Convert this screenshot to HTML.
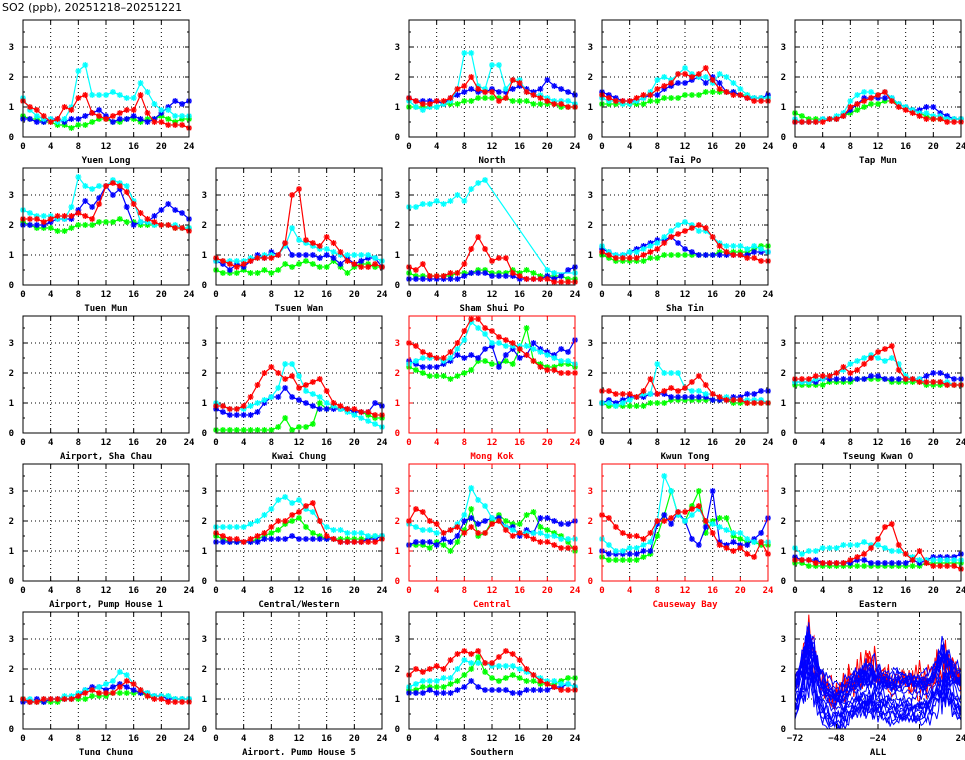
<!DOCTYPE html>
<html><head><meta charset="utf-8"><style>
body{margin:0;background:#fff;}
svg text{font-family:"DejaVu Sans Mono","Liberation Mono",monospace;font-weight:bold;}
</style></head><body>
<svg id="s" width="965" height="755" xmlns="http://www.w3.org/2000/svg">
<text x="2" y="11" font-size="11" style="font-family:'DejaVu Sans','Liberation Sans',sans-serif;font-weight:normal">SO2 (ppb), 20251218–20251221</text>
</svg>
<script>
const S=document.getElementById('s');
const C=['#00ffff','#ff0000','#0000ff','#00ff00'];
function el(t,a,txt){const e=document.createElementNS('http://www.w3.org/2000/svg',t);for(const k in a)e.setAttribute(k,a[k]);if(txt!=null)e.textContent=txt;S.appendChild(e);return e;}
const N=null;
const P=[
[0,0,"Yuen Long",0,[
[1.3,0.9,0.7,0.6,0.6,0.5,0.6,1.0,2.2,2.4,1.4,1.4,1.4,1.5,1.4,1.3,1.3,1.8,1.5,1.1,0.9,0.9,0.7,0.7,0.7],
[1.2,1.0,0.9,0.7,0.5,0.6,1.0,0.9,1.3,1.4,0.8,0.7,0.6,0.7,0.8,0.9,0.9,1.4,0.8,0.5,0.5,0.4,0.4,0.4,0.3],
[0.6,0.6,0.5,0.5,0.6,0.6,0.5,0.6,0.6,0.7,0.8,0.9,0.7,0.5,0.6,0.6,0.7,0.6,0.5,0.6,0.8,1.0,1.2,1.1,1.2],
[0.7,0.6,0.6,0.5,0.5,0.4,0.4,0.3,0.4,0.4,0.5,0.6,0.6,0.5,0.5,0.6,0.6,0.5,0.6,0.6,0.7,0.6,0.5,0.6,0.6]]],
[0,2,"North",0,[
[1.2,1.0,0.9,1.0,1.0,1.1,1.2,1.6,2.8,2.8,1.7,1.6,2.4,2.4,1.6,1.9,1.9,1.5,1.4,1.4,1.3,1.2,1.2,1.2,1.1],
[1.3,1.2,1.1,1.1,1.2,1.2,1.3,1.6,1.7,2.0,1.6,1.5,1.5,1.2,1.3,1.9,1.8,1.5,1.4,1.3,1.2,1.1,1.1,1.0,1.0],
[1.3,1.2,1.2,1.2,1.2,1.1,1.3,1.4,1.5,1.6,1.5,1.5,1.6,1.5,1.5,1.6,1.7,1.6,1.5,1.6,1.9,1.7,1.6,1.5,1.4],
[1.0,1.0,1.0,1.0,1.0,1.1,1.1,1.1,1.2,1.2,1.3,1.3,1.3,1.3,1.3,1.2,1.2,1.2,1.1,1.1,1.1,1.1,1.0,1.0,1.0]]],
[0,3,"Tai Po",0,[
[1.3,1.2,1.2,1.1,1.1,1.2,1.3,1.5,1.9,2.0,1.9,2.1,2.3,2.1,2.0,2.0,1.8,2.1,2.0,1.8,1.6,1.4,1.3,1.3,1.3],
[1.4,1.3,1.2,1.2,1.2,1.3,1.4,1.4,1.6,1.7,1.8,2.1,2.1,2.0,2.1,2.3,1.9,1.6,1.5,1.4,1.4,1.3,1.2,1.2,1.2],
[1.5,1.4,1.3,1.2,1.2,1.2,1.3,1.4,1.4,1.6,1.7,1.8,1.8,1.9,2.0,1.8,2.0,1.8,1.5,1.5,1.4,1.3,1.3,1.3,1.4],
[1.1,1.1,1.1,1.1,1.1,1.1,1.1,1.2,1.2,1.3,1.3,1.3,1.4,1.4,1.4,1.5,1.5,1.5,1.5,1.5,1.4,1.4,1.3,1.3,1.3]]],
[0,4,"Tap Mun",0,[
[.6,.5,.5,.5,.6,.6,.7,.8,1.2,1.4,1.5,1.5,1.4,1.5,1.3,1.1,1.0,.9,.8,.8,.7,.7,.6,.6,.6],
[.5,.5,.5,.5,.5,.6,.6,.7,1.0,1.1,1.2,1.3,1.4,1.5,1.2,1.0,.9,.8,.7,.6,.6,.6,.5,.5,.5],
[.5,.5,.5,.5,.6,.6,.6,.7,.9,1.1,1.3,1.3,1.3,1.3,1.3,1.1,1.0,.9,.9,1.0,1.0,.8,.7,.6,.6],
[.8,.7,.6,.6,.6,.6,.6,.7,.8,.9,1.0,1.1,1.1,1.2,1.2,1.1,1.0,.9,.8,.7,.6,.6,.6,.6,.6]]],
[1,0,"Tuen Mun",0,[
[2.5,2.4,2.3,2.3,2.3,2.2,2.2,2.6,3.6,3.3,3.2,3.3,3.3,3.5,3.4,3.3,2.8,2.1,2.1,2.0,2.0,2.0,2.0,1.9,1.9],
[2.2,2.2,2.2,2.1,2.2,2.3,2.3,2.3,2.4,2.3,2.2,2.7,3.3,3.4,3.3,3.1,2.7,2.4,2.2,2.1,2.0,2.0,1.9,1.9,1.8],
[2.0,2.0,2.0,2.0,2.1,2.2,2.2,2.2,2.5,2.8,2.6,2.9,3.3,3.0,3.2,2.6,2.0,2.1,2.1,2.3,2.5,2.7,2.5,2.4,2.2],
[2.1,2.0,1.9,1.9,1.9,1.8,1.8,1.9,2.0,2.0,2.0,2.1,2.1,2.1,2.2,2.1,2.1,2.0,2.0,2.0,2.0,2.0,1.9,1.9,1.9]]],
[1,1,"Tsuen Wan",0,[
[.8,.8,.8,.8,.8,.9,.9,1.0,1.0,1.0,1.3,1.9,1.5,1.4,1.3,1.2,1.2,1.1,1.0,1.0,1.0,1.0,1.0,.9,.8],
[.9,.8,.7,.6,.7,.8,.9,.9,.9,1.0,1.4,3.0,3.2,1.5,1.4,1.3,1.6,1.4,1.1,.8,.7,.6,.6,.7,.6],
[.8,.7,.5,.7,.6,.8,1.0,.9,1.1,1.0,1.4,1.0,1.0,1.0,1.0,.9,1.0,.9,.7,.9,.7,.8,.9,.9,.6],
[.5,.4,.4,.4,.5,.4,.4,.5,.4,.5,.7,.6,.7,.8,.7,.6,.6,.8,.6,.4,.6,.7,.7,.6,.6]]],
[1,2,"Sham Shui Po",0,[
[2.6,2.6,2.7,2.7,2.8,2.7,2.8,3.0,2.8,3.2,3.4,3.5,N,N,N,N,N,N,N,N,0.5,N,N,N,N],
[.6,.5,.7,.3,.3,.3,.4,.4,.7,1.2,1.6,1.2,.8,.9,.9,.4,.3,.2,.2,.2,.2,.1,.1,.1,.1],
[.2,.2,.2,.2,.2,.2,.2,.2,.3,.4,.4,.4,.3,.3,.3,.3,.2,.2,.2,.2,.3,.2,.3,.5,.6],
[.4,.3,.3,.3,.3,.3,.3,.4,.4,.4,.5,.5,.4,.4,.4,.5,.4,.5,.4,.3,.3,.3,.3,.2,.2]]],
[1,3,"Sha Tin",0,[
[1.3,1.1,1.0,1.0,1.1,1.1,1.2,1.3,1.4,1.6,1.8,2.0,2.1,2.0,1.8,1.8,1.6,1.4,1.3,1.3,1.3,1.2,1.3,1.2,1.1],
[1.1,1.0,.9,.9,.9,.9,1.0,1.1,1.2,1.4,1.6,1.7,1.8,1.9,2.0,1.9,1.6,1.3,1.1,1.0,1.0,.9,.9,.8,.8],
[1.2,1.1,1.0,1.0,1.1,1.2,1.3,1.4,1.5,1.5,1.6,1.4,1.2,1.1,1.0,1.0,1.0,1.0,1.0,1.0,1.0,1.0,1.1,1.1,1.1],
[1.0,.9,.8,.8,.8,.8,.8,.9,.9,1.0,1.0,1.0,1.0,1.0,1.0,1.0,1.0,1.1,1.1,1.1,1.1,1.1,1.2,1.3,1.3]]],
[2,0,"Airport, Sha Chau",0,[]],
[2,1,"Kwai Chung",0,[
[1.0,.9,.8,.8,.8,.9,1.0,1.1,1.2,1.5,2.3,2.3,1.9,1.4,1.3,1.2,1.0,.9,.8,.7,.6,.5,.4,.3,.2],
[.9,.9,.8,.8,.9,1.2,1.6,2.0,2.2,2.0,1.8,1.9,1.5,1.6,1.7,1.8,1.4,1.0,.9,.8,.8,.7,.7,.6,.6],
[.8,.7,.6,.6,.6,.6,.7,1.0,1.2,1.2,1.5,1.2,1.1,1.0,.9,.8,.8,.8,.8,.8,.7,.7,.7,1.0,.9],
[.1,.1,.1,.1,.1,.1,.1,.1,.1,.2,.5,.1,.2,.2,.3,1.0,.8,.9,.8,.8,.7,.7,.6,.5,.5]]],
[2,2,"Mong Kok",1,[
[2.3,2.4,2.5,2.5,2.5,2.4,2.5,2.8,3.1,3.7,3.5,3.3,3.0,3.0,2.9,2.9,2.9,2.9,2.8,2.7,2.6,2.5,2.4,2.4,2.3],
[3.0,2.9,2.7,2.6,2.5,2.5,2.7,3.0,3.4,3.8,3.8,3.5,3.4,3.2,3.1,3.0,2.8,2.6,2.4,2.2,2.1,2.1,2.0,2.0,2.0],
[2.4,2.3,2.2,2.2,2.2,2.3,2.4,2.6,2.5,2.6,2.5,2.8,2.9,2.2,2.6,2.8,2.5,2.6,3.0,2.8,2.7,2.6,2.8,2.7,3.1],
[2.2,2.1,2.0,1.9,1.9,1.9,1.8,1.9,2.0,2.1,2.4,2.4,2.3,2.3,2.4,2.3,2.8,3.5,2.4,2.3,2.2,2.2,2.3,2.3,2.2]]],
[2,3,"Kwun Tong",0,[
[1.0,1.0,.9,1.0,1.1,1.2,1.3,1.3,2.3,2.0,2.0,2.0,1.5,1.4,1.4,1.3,1.3,1.2,1.2,1.1,1.1,1.1,1.1,1.1,1.0],
[1.4,1.4,1.3,1.3,1.3,1.2,1.4,1.8,1.3,1.4,1.5,1.4,1.5,1.7,1.9,1.6,1.3,1.2,1.1,1.1,1.1,1.0,1.0,1.0,1.0],
[1.0,1.1,1.0,1.1,1.2,1.2,1.2,1.3,1.3,1.3,1.2,1.2,1.2,1.2,1.2,1.2,1.1,1.1,1.1,1.2,1.2,1.3,1.3,1.4,1.4],
[1.0,.9,.9,.9,.9,.9,.9,1.0,1.0,1.0,1.1,1.1,1.1,1.1,1.1,1.1,1.1,1.1,1.1,1.0,1.0,1.0,1.0,1.0,1.0]]],
[2,4,"Tseung Kwan O",0,[
[1.7,1.7,1.7,1.8,1.8,1.9,2.0,2.1,2.3,2.4,2.5,2.6,2.5,2.4,2.5,2.3,1.9,1.8,1.8,1.7,1.7,1.7,1.7,1.6,1.6],
[1.8,1.8,1.8,1.9,1.9,1.9,2.0,2.2,2.0,2.1,2.3,2.5,2.7,2.8,2.9,2.1,1.8,1.8,1.7,1.7,1.7,1.7,1.6,1.6,1.6],
[1.7,1.7,1.7,1.7,1.8,1.8,1.8,1.8,1.8,1.8,1.8,1.9,1.9,1.8,1.8,1.8,1.8,1.8,1.8,1.9,2.0,2.0,1.9,1.8,1.8],
[1.6,1.6,1.6,1.6,1.6,1.7,1.7,1.7,1.7,1.8,1.8,1.8,1.8,1.8,1.7,1.7,1.7,1.7,1.7,1.6,1.6,1.6,1.6,1.6,1.6]]],
[3,0,"Airport, Pump House 1",0,[]],
[3,1,"Central/Western",0,[
[1.8,1.8,1.8,1.8,1.8,1.9,2.0,2.2,2.4,2.7,2.8,2.6,2.7,2.4,2.3,2.0,1.8,1.7,1.7,1.6,1.6,1.6,1.5,1.5,1.5],
[1.6,1.5,1.4,1.4,1.3,1.4,1.5,1.6,1.8,2.0,2.0,2.2,2.3,2.5,2.6,2.0,1.5,1.4,1.3,1.3,1.3,1.3,1.3,1.3,1.4],
[1.3,1.3,1.3,1.3,1.3,1.3,1.3,1.4,1.4,1.4,1.4,1.5,1.4,1.4,1.4,1.4,1.4,1.4,1.3,1.3,1.3,1.3,1.4,1.4,1.5],
[1.5,1.4,1.3,1.3,1.3,1.3,1.4,1.5,1.6,1.7,1.9,2.0,2.1,1.8,1.6,1.5,1.4,1.4,1.4,1.4,1.4,1.4,1.4,1.5,1.5]]],
[3,2,"Central",1,[
[1.9,1.8,1.7,1.7,1.6,1.6,1.7,1.9,2.2,3.1,2.7,2.5,2.1,2.0,1.8,1.7,1.6,1.6,1.6,1.6,1.5,1.5,1.4,1.4,1.4],
[2.0,2.4,2.3,2.0,1.9,1.6,1.7,1.8,1.6,1.8,1.6,1.6,1.9,2.0,1.7,1.5,1.6,1.5,1.4,1.3,1.3,1.2,1.1,1.1,1.1],
[1.2,1.3,1.3,1.3,1.2,1.4,1.3,1.5,2.0,2.1,1.9,2.0,2.1,2.1,1.8,1.8,1.5,1.7,1.6,2.1,2.1,2.0,1.9,1.9,2.0],
[1.2,1.2,1.2,1.1,1.3,1.2,1.0,1.3,1.7,2.4,1.5,1.6,2.0,2.2,2.0,1.9,1.9,2.2,2.3,1.8,1.7,1.6,1.5,1.3,1.0]]],
[3,3,"Causeway Bay",1,[
[1.4,1.2,1.0,1.0,1.1,1.1,1.2,1.3,2.0,3.5,3.0,2.2,2.0,2.2,2.4,2.0,1.9,1.8,1.7,1.6,1.6,1.4,1.3,1.3,1.3],
[2.2,2.1,1.8,1.6,1.5,1.5,1.4,1.6,2.0,2.0,2.1,2.3,2.3,2.4,2.5,2.0,1.6,1.2,1.1,1.0,1.1,.9,.8,1.3,.9],
[1.0,.9,.9,.9,.9,.9,1.0,1.0,1.9,2.2,1.9,2.3,2.0,1.4,1.2,1.8,3.0,1.3,1.2,1.3,1.2,1.2,1.4,1.6,2.1],
[.8,.7,.7,.7,.7,.7,.8,.9,1.5,2.2,3.0,2.2,2.0,2.5,3.0,1.6,2.0,2.1,2.1,1.5,1.4,1.3,1.3,1.2,1.2]]],
[3,4,"Eastern",0,[
[1.1,.9,1.0,1.0,1.1,1.1,1.1,1.2,1.2,1.2,1.3,1.2,1.2,1.1,1.0,1.0,.9,.8,.7,.7,.7,.7,.7,.7,.7],
[.7,.7,.7,.6,.6,.6,.6,.6,.7,.8,.9,1.1,1.4,1.8,1.9,1.2,.9,.7,1.0,.6,.5,.5,.5,.5,.4],
[.8,.7,.7,.7,.6,.6,.6,.6,.6,.7,.7,.6,.6,.6,.6,.6,.6,.7,.6,.7,.8,.8,.8,.8,.9],
[.6,.6,.5,.5,.5,.5,.5,.5,.5,.5,.5,.5,.5,.5,.5,.5,.5,.5,.5,.6,.6,.6,.6,.6,.6]]],
[4,0,"Tung Chung",0,[
[1.0,1.0,.9,1.0,1.0,1.0,1.1,1.1,1.2,1.3,1.3,1.4,1.5,1.6,1.9,1.8,1.5,1.3,1.2,1.1,1.1,1.1,1.0,1.0,1.0],
[1.0,.9,.9,1.0,1.0,1.0,1.0,1.0,1.1,1.2,1.3,1.2,1.2,1.2,1.4,1.6,1.5,1.3,1.1,1.0,1.0,.9,.9,.9,.9],
[.9,.9,1.0,.9,1.0,1.0,1.0,1.0,1.1,1.3,1.4,1.4,1.3,1.4,1.5,1.4,1.3,1.2,1.2,1.1,1.1,1.0,1.0,1.0,1.0],
[1.0,.9,.9,.9,.9,.9,1.0,1.0,1.0,1.0,1.1,1.1,1.1,1.2,1.2,1.2,1.2,1.2,1.1,1.1,1.1,1.1,1.0,1.0,1.0]]],
[4,1,"Airport, Pump House 5",0,[]],
[4,2,"Southern",0,[
[1.4,1.5,1.6,1.6,1.6,1.7,1.7,2.0,2.3,2.2,2.2,2.2,2.1,2.1,2.1,2.1,2.0,1.9,1.8,1.7,1.6,1.6,1.5,1.5,1.4],
[1.8,2.0,1.9,2.0,2.1,2.0,2.3,2.5,2.6,2.5,2.6,2.2,2.2,2.4,2.6,2.5,2.3,2.0,1.8,1.6,1.5,1.4,1.3,1.3,1.3],
[1.2,1.2,1.2,1.3,1.2,1.2,1.2,1.3,1.4,1.6,1.4,1.3,1.3,1.3,1.3,1.2,1.2,1.3,1.3,1.3,1.3,1.4,1.4,1.5,1.4],
[1.3,1.3,1.4,1.4,1.4,1.4,1.5,1.6,1.8,2.0,2.4,1.9,1.7,1.6,1.7,1.8,1.7,1.6,1.6,1.5,1.5,1.5,1.6,1.7,1.7]]],
[4,4,"ALL",2,null]
];
const W=166,H=117,U=30;
function frame(x0,y0,col,xt,xl){
  for(let i=1;i<xt.length-1;i++){const x=x0+W*i/(xt.length-1);el('line',{x1:x,y1:y0,x2:x,y2:y0+H,stroke:'#000','stroke-width':1,'stroke-dasharray':'1,3'});}
  for(let v=1;v<=3;v++){const y=y0+H-v*U;el('line',{x1:x0,y1:y,x2:x0+W,y2:y,stroke:'#000','stroke-width':1,'stroke-dasharray':'1,3'});}
  for(let i=0;i<xt.length;i++){const x=x0+W*i/(xt.length-1);
    el('line',{x1:x,y1:y0+H,x2:x,y2:y0+H-4,stroke:col});el('line',{x1:x,y1:y0,x2:x,y2:y0+4,stroke:col});
    el('text',{x:x,y:y0+H+12,'font-size':9,'text-anchor':'middle',fill:col},xt[i]);}
  for(let v=0;v<=3;v++){const y=y0+H-v*U;el('line',{x1:x0,y1:y,x2:x0+4,y2:y,stroke:col});el('line',{x1:x0+W,y1:y,x2:x0+W-4,y2:y,stroke:col});
    el('text',{x:x0-9,y:y+3,'font-size':9,'text-anchor':'end',fill:col},v);}
  for(let v=0.5;v<3.9;v+=1){const y=y0+H-v*U;el('line',{x1:x0,y1:y,x2:x0+2,y2:y,stroke:col});el('line',{x1:x0+W,y1:y,x2:x0+W-2,y2:y,stroke:col});}
  el('text',{x:x0+W/2,y:y0+H+26,'font-size':9,'text-anchor':'middle',fill:col},xl);
}
function star(x,y,c){const d=3;el('path',{d:`M${x-d} ${y}H${x+d}M${x} ${y-d}V${y+d}M${x-2.2} ${y-2.2}L${x+2.2} ${y+2.2}M${x-2.2} ${y+2.2}L${x+2.2} ${y-2.2}`,stroke:c,'stroke-width':1.3,fill:'none'});}
let seed=11;function rnd(){seed=(seed*16807)%2147483647;return seed/2147483647;}
for(const [r,c,name,t,data] of P){
  const x0=23+c*193,y0=20+r*148;
  const red=t==1,col=red?'#ff0000':'#000';
  if(t==2){
    frame(x0,y0,'#000',['−72','−48','−24','0','24'],name);
    el('clipPath',{id:'cp'});const cp=S.lastChild;const rr=document.createElementNS('http://www.w3.org/2000/svg','rect');rr.setAttribute('x',x0);rr.setAttribute('y',y0);rr.setAttribute('width',W);rr.setAttribute('height',H);cp.appendChild(rr);
    const g=el('g',{'clip-path':'url(#cp)'});
    const lines=[];
    for(let k=0;k<24;k++){const isR=k<3;const base=isR?1.5+rnd()*0.7:0.3+rnd()*1.5;let pts=[];let drift=0;
      for(let h=-72;h<=24;h+=1){drift+=(rnd()-0.5)*0.15;drift*=0.92;let v=base+drift;v+=1.3*Math.exp(-Math.pow((h+64)/5,2))*(0.4+rnd());v+=0.9*Math.exp(-Math.pow((h-14)/6,2))*(0.4+rnd());v+=0.5*Math.exp(-Math.pow((h+30)/8,2))*rnd()*(isR?2:1.2);v-=0.4*Math.exp(-Math.pow((h+48)/6,2));v+=(rnd()-0.5)*(isR?0.9:0.35);v=Math.max(0,v);
        pts.push((x0+(h+72)/96*W).toFixed(1)+','+(y0+H-v*U).toFixed(1));}
      lines.push([isR,pts.join(' ')]);}
    lines.sort((a,b)=>b[0]-a[0]);
    for(const [isR,p] of lines){const e=document.createElementNS('http://www.w3.org/2000/svg','polyline');e.setAttribute('points',p);e.setAttribute('fill','none');e.setAttribute('stroke',isR?'#ff0000':'#0000ff');e.setAttribute('stroke-width',1);g.appendChild(e);}
    el('rect',{x:x0,y:y0,width:W,height:H,fill:'none',stroke:'#000'});
    continue;
  }
  frame(x0,y0,col,['0','4','8','12','16','20','24'],name);
  const order=[3,2,0,1];
  for(const s of order){const d=data[s];if(!d)continue;const pts=[];
    d.forEach((v,h)=>{if(v!=null)pts.push([x0+h*W/24,y0+H-v*U]);});
    if(s==0&&name=="Sham Shui Po"){pts.push([x0+21*W/24,y0+H-0.4*U],[x0+24*W/24,y0+H-0.4*U]);}
    el('polyline',{points:pts.map(p=>p.join(',')).join(' '),fill:'none',stroke:C[s],'stroke-width':1.2});
    pts.forEach(p=>star(p[0],p[1],C[s]));}
  el('rect',{x:x0,y:y0,width:W,height:H,fill:'none',stroke:col});
}
</script>
</body></html>
